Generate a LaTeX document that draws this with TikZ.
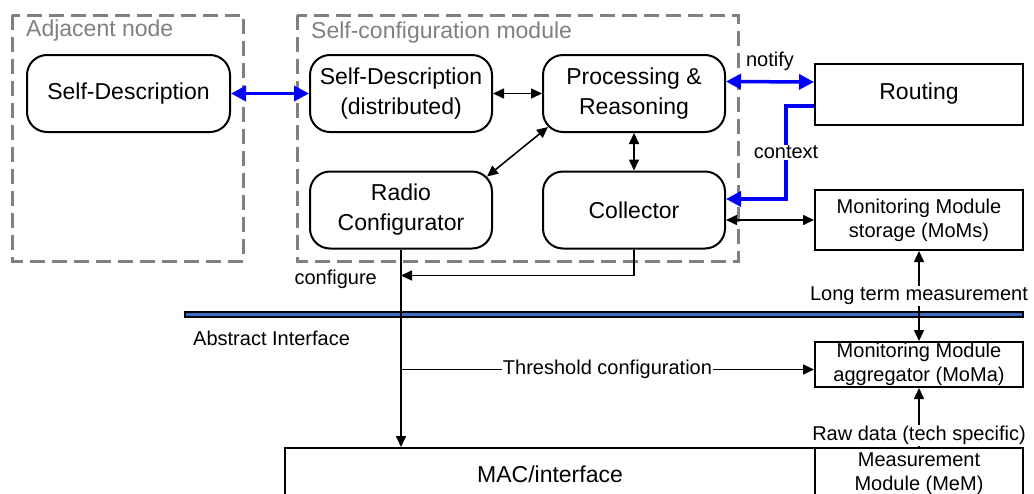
\documentclass[tikz,border=0pt]{standalone}
\usepackage{fontspec}
\setmainfont{Liberation Sans}
\usetikzlibrary{arrows.meta,calc}
\definecolor{grpgray}{RGB}{128,128,128}
\definecolor{barblue}{RGB}{58,110,200}

\begin{document}
\begin{tikzpicture}[x=1pt, y=-1pt, % 以像素为单位, y 轴向下
    bigtxt/.style={font=\fontsize{23}{30}\selectfont},
    smalltxt/.style={font=\fontsize{20}{24}\selectfont},
    rbox/.style={draw, line width=2pt, rounded corners=20pt, align=center, bigtxt,
        inner sep=0pt, minimum width=182pt, minimum height=77pt},
    sbox/.style={draw, line width=2pt, align=center, inner sep=0pt, minimum width=208pt},
    grpbox/.style={draw=grpgray, line width=3pt, dash pattern=on 15pt off 7pt},
    grplbl/.style={text=grpgray, bigtxt, anchor=west, inner sep=0pt},
    lnk/.style={line width=1.6pt, -{Triangle[length=11pt,width=10pt]}},
    dlnk/.style={line width=1.6pt, {Triangle[length=11pt,width=10pt]}-{Triangle[length=11pt,width=10pt]}},
    bluelnk/.style={blue, line width=3.5pt, -{Triangle[length=15pt,width=15pt]}},
    dbluelnk/.style={blue, line width=3.5pt, {Triangle[length=15pt,width=15pt]}-{Triangle[length=15pt,width=15pt]}},
    lbl/.style={smalltxt, text=black, fill=white, inner sep=1pt}]

    \useasboundingbox (0,0) rectangle (1034,493);

    % 1. 两个虚线分组框
    \draw[grpbox] (12,15) rectangle (243,261);
    \draw[grpbox] (297,15) rectangle (738,261);
    \node[grplbl] (adjlbl) at (26,31) {Adjacent node};
    \node[grplbl] (scmlbl) at (311,33) {Self-configuration module};

    % 2. 圆角模块
    \node[rbox, minimum width=203pt] (sda) at (128.5,93.5) {Self-Description};
    \node[rbox] (sdd) at (401,93.5) {Self-Description\\(distributed)};
    \node[rbox] (proc) at (634,93.5) {Processing \&\\Reasoning};
    \node[rbox] (radio) at (401,210) {Radio\\Configurator};
    \node[rbox] (coll) at (634,210) {Collector};

    % 3. 右侧矩形模块
    \node[sbox, bigtxt, minimum height=61pt] (routing) at (919,94) {Routing};
    \node[sbox, smalltxt, minimum height=60pt] (moms) at (919,220) {Monitoring Module\\storage (MoMs)};
    \node[sbox, smalltxt, minimum height=45pt] (moma) at (919,364.5) {Monitoring Module\\aggregator (MoMa)};
    \node[sbox, smalltxt, minimum height=52pt] (mem) at (919,474) {Measurement\\Module (MeM)};
    \node[sbox, bigtxt, minimum width=530pt, minimum height=52pt] (mac) at (550,474) {MAC/interface};

    % 4. 抽象接口 (蓝色横条)
    \filldraw[fill=barblue, draw=black, line width=1.2pt] (185,312) rectangle (1023,317);
    \node[smalltxt, anchor=west, inner sep=0pt] (absif) at (193,338) {Abstract Interface};

    % 5. 连线
    \draw[dbluelnk] (sda.east) -- (sdd.west);
    \draw[dlnk] (sdd.east) -- (proc.west);
    \draw[dlnk] ([shift={(6,-6)}]proc.south west) -- ([shift={(-6,6)}]radio.north east);
    \draw[dlnk] (proc.south) -- (coll.north);
    \draw[dbluelnk] ([yshift=12pt]proc.east) -- node[above=9pt, smalltxt, text=black, inner sep=0pt] {notify}
        ([yshift=12pt]routing.west);
    \draw[bluelnk] ([yshift=-12pt]routing.west) -- ++(-28,0)
        |- node[lbl, pos=0.25] {context} ([yshift=11pt]coll.east);
    \draw[dlnk] ([yshift=-10pt]coll.east) -- (moms.west);

    % configure: 收集器 -> 无线配置线
    \coordinate (cfg) at ([yshift=-26pt]radio.south);
    \draw[lnk] (coll.south) |- (cfg);
    \node[smalltxt, anchor=east, inner sep=0pt] (cfglbl) at ([shift={(-24,4)}]cfg) {configure};
    \draw[lnk] (radio.south) -- (radio.south |- mac.north);

    \coordinate (thr) at ([yshift=-5pt]moma.west);
    \draw[lnk] (radio.south |- thr) -- node[lbl] {Threshold configuration} (thr);
    \draw[dlnk] (moma.north) -- node[lbl] {Long term measurement} (moms.south);
    \draw[lnk] (mem.north) -- node[lbl, pos=0.2] {Raw data (tech specific)} (moma.south);

\end{tikzpicture}
\end{document}
